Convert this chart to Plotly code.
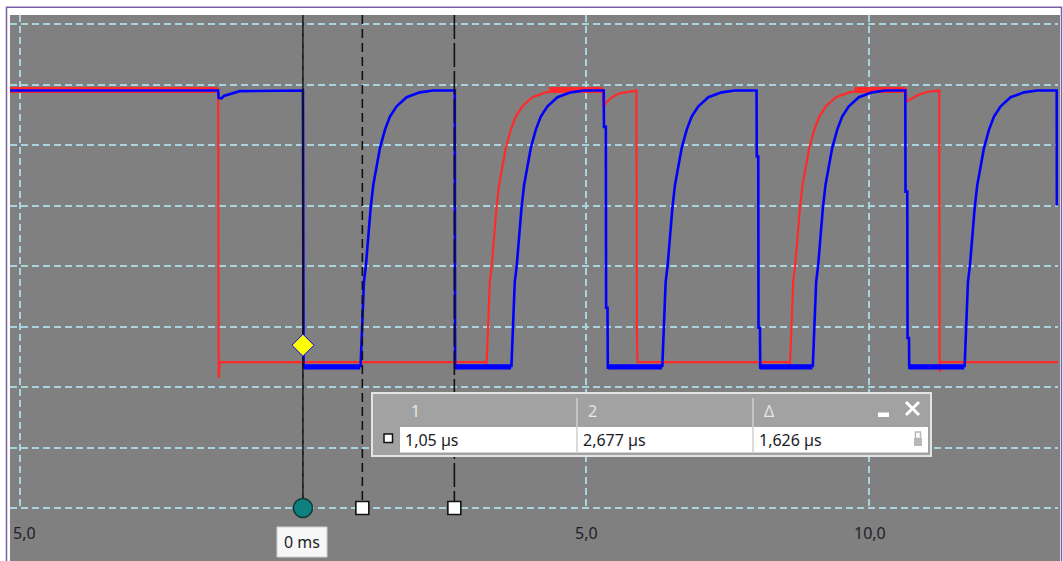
import plotly.graph_objects as go

# ---------------- data (time in µs, amplitude in grid divisions) ----------------
X_RANGE = [-5.18, 13.35]
Y_RANGE = [0.0, 8.149]
GRID_X = [-5, 0, 5, 10]
GRID_Y = [0, 1, 2, 3, 4, 5, 6, 7, 8]
TICK_VALS = [-5, 5, 10]
TICK_TEXT = ["5,0", "5,0", "10,0"]

# measured shape of one rising edge (offset from edge start, level)
RISE_DT = [0, 0.018, 0.035, 0.058, 0.094, 0.134, 0.177, 0.223, 0.283, 0.341,
           0.429, 0.518, 0.636, 0.813, 1.048, 1.283]
RISE_V = [2.37, 2.75, 3.36, 3.74, 4.02, 4.51, 4.96, 5.34, 5.67, 5.95,
          6.25, 6.47, 6.64, 6.79, 6.87, 6.90]

# blue channel: levels, drops and partial segments
BLUE_T = [-5.18, -1.50, -1.49, -1.44, -1.40, -1.33, -1.22, -1.12,
          0.0, 0.01, 0.04,
          2.685, 2.69, 2.72,
          5.318, 5.322, 5.355, 5.36, 5.385, 5.39, 5.42,
          8.02, 8.024, 8.05, 8.055, 8.08, 8.085, 8.11,
          10.65, 10.654, 10.685, 10.69, 10.715, 10.72, 10.75,
          13.327, 13.33]
BLUE_V = [6.90, 6.90, 6.78, 6.77, 6.81, 6.83, 6.87, 6.89,
          6.90, 2.30, 2.35,
          6.90, 2.30, 2.35,
          6.90, 6.30, 6.30, 3.31, 3.31, 2.30, 2.35,
          6.90, 5.81, 5.81, 2.98, 2.98, 2.30, 2.35,
          6.90, 5.23, 5.23, 2.81, 2.81, 2.30, 2.35,
          6.90, 5.00]
BLUE_RISES = [1.02, 3.687, 6.355, 9.016, 11.70]
# noisy low stretches of the blue channel (start, end) and their mean level
BLUE_NOISY_LOW = [(0.02, 1.012), (2.70, 3.68), (5.40, 6.348), (8.09, 9.008), (10.73, 11.692)]
BLUE_NOISY_LEVEL = 2.33

# red channel
RED_T = [-5.18, -1.50, -1.49, -1.47,
         5.30, 5.31, 5.36, 5.45, 5.58, 5.75, 5.896, 5.905, 5.915,
         10.66, 10.67, 10.75, 10.88, 11.05, 11.25, 11.258, 11.275, 13.35]
RED_V = [6.92, 6.92, 2.15, 2.41,
         6.92, 6.63, 6.70, 6.78, 6.85, 6.88, 6.90, 2.83, 2.41,
         6.92, 6.72, 6.76, 6.83, 6.88, 6.90, 2.25, 2.41, 2.41]
RED_RISES = [3.245, 8.61]
RED_LOW = 2.41
BLUE_LOW = 2.35
# noisy high stretches of the red channel
RED_NOISY_HIGH = [(-5.18, -1.505), (4.35, 5.295), (9.75, 10.655)]
RED_NOISY_LEVEL = 6.91

# cursors
CURSOR_ZERO = 0.0
CURSOR_1 = 1.05
CURSOR_2 = 2.677
DIAMOND = (0.0, 2.69)
TABLE_HEAD = ["1", "2", "Δ"]
TABLE_VALS = ["1,05 µs", "2,677 µs", "1,626 µs"]
ZERO_LABEL = "0 ms"


def build(ts, vs, rises, low):
    pts = list(zip(ts, vs))
    for t0 in rises:
        pts.append((t0 - 0.0005, low))
        for dt, v in zip(RISE_DT, RISE_V):
            pts.append((t0 + dt, v))
    pts.sort(key=lambda p: p[0])
    return [p[0] for p in pts], [p[1] for p in pts]


def spans(pairs, level):
    xs, ys = [], []
    for a, b in pairs:
        xs += [a, b, None]
        ys += [level, level, None]
    return xs, ys


bt, bv = build(BLUE_T, BLUE_V, BLUE_RISES, BLUE_LOW)
rt, rv = build(RED_T, RED_V, RED_RISES, RED_LOW)

# ---------------- figure ----------------
W, H = 1063, 561
ML, MR, MT, MB = 10, 5, 15, 53
PW, PH = W - ML - MR, H - MT - MB


def px(x):
    return (x - ML) / PW


def py(y):
    return (MT + PH - y) / PH


FONT = "Noto Sans"
GRID_COLOR = "#a9d3df"
RED = "#ff2a2a"
BLUE = "#0000ff"

fig = go.Figure()
rnx, rny = spans(RED_NOISY_HIGH, RED_NOISY_LEVEL)
fig.add_trace(go.Scatter(x=rnx, y=rny, mode="lines", connectgaps=False,
                         line=dict(color=RED, width=6), hoverinfo="skip"))
fig.add_trace(go.Scatter(x=rt, y=rv, mode="lines",
                         line=dict(color=RED, width=2.2), hoverinfo="skip"))
bnx, bny = spans(BLUE_NOISY_LOW, BLUE_NOISY_LEVEL)
fig.add_trace(go.Scatter(x=bnx, y=bny, mode="lines", connectgaps=False,
                         line=dict(color=BLUE, width=5), hoverinfo="skip"))
fig.add_trace(go.Scatter(x=bt, y=bv, mode="lines",
                         line=dict(color=BLUE, width=2.6), hoverinfo="skip"))

# cursor lines
for xc, dash in [(CURSOR_ZERO, "solid"), (CURSOR_1, "9px,5px"), (CURSOR_2, "24px,4px")]:
    fig.add_trace(go.Scatter(x=[xc, xc], y=[Y_RANGE[1], 0], mode="lines",
                             line=dict(color="#111111", width=1.6, dash=dash),
                             hoverinfo="skip"))

# cursor markers
fig.add_trace(go.Scatter(x=[CURSOR_ZERO], y=[0], mode="markers", cliponaxis=False,
                         marker=dict(symbol="circle", size=19, color="#0e8080",
                                     line=dict(color="#103838", width=1.5)),
                         hoverinfo="skip"))
fig.add_trace(go.Scatter(x=[CURSOR_1, CURSOR_2], y=[0, 0], mode="markers", cliponaxis=False,
                         marker=dict(symbol="square", size=13, color="white",
                                     line=dict(color="#111111", width=1.6)),
                         hoverinfo="skip"))
fig.add_trace(go.Scatter(x=[DIAMOND[0]], y=[DIAMOND[1]], mode="markers", cliponaxis=False,
                         marker=dict(symbol="diamond", size=17, color="#ffff00",
                                     line=dict(color="#0000ff", width=1)),
                         hoverinfo="skip"))

shapes = []
# gray surround below plot
shapes.append(dict(type="rect", xref="paper", yref="paper", layer="below",
                   x0=px(10), x1=px(1060), y0=py(562), y1=py(15),
                   fillcolor="#808080", line=dict(width=0)))
# bottom grid line (plotly omits the one on the axis edge)
shapes.append(dict(type="line", xref="paper", yref="paper", layer="between",
                   x0=0, x1=1, y0=0, y1=0,
                   line=dict(color=GRID_COLOR, width=2, dash="7px,4px")))
# purple frame
shapes.append(dict(type="rect", xref="paper", yref="paper", layer="above",
                   x0=px(6.5), x1=px(1061.5), y0=py(575), y1=py(7.2),
                   fillcolor="rgba(0,0,0,0)", line=dict(color="#7b5fa5", width=1.5)))

# measurement table
shapes.append(dict(type="rect", xref="paper", yref="paper", layer="above",
                   x0=px(372), x1=px(931), y0=py(456), y1=py(393),
                   fillcolor="#a2a2a2", line=dict(color="#e4e4e4", width=2)))
shapes.append(dict(type="rect", xref="paper", yref="paper", layer="above",
                   x0=px(400), x1=px(928), y0=py(452.5), y1=py(427),
                   fillcolor="#ffffff", line=dict(width=0)))
for sx in [577, 753]:
    shapes.append(dict(type="line", xref="paper", yref="paper", layer="above",
                       x0=px(sx), x1=px(sx), y0=py(452.5), y1=py(398),
                       line=dict(color="#cfcfcf", width=1.5)))
# checkbox
shapes.append(dict(type="rect", xref="paper", yref="paper", layer="above",
                   x0=px(384), x1=px(392.5), y0=py(442.5), y1=py(434),
                   fillcolor="#ffffff", line=dict(color="#111111", width=1.5)))
# minimise bar
shapes.append(dict(type="rect", xref="paper", yref="paper", layer="above",
                   x0=px(878), x1=px(889), y0=py(417), y1=py(412.5),
                   fillcolor="#ffffff", line=dict(width=0)))
# close cross
shapes.append(dict(type="line", xref="paper", yref="paper", layer="above",
                   x0=px(906), x1=px(919), y0=py(415), y1=py(402),
                   line=dict(color="#ffffff", width=3)))
shapes.append(dict(type="line", xref="paper", yref="paper", layer="above",
                   x0=px(906), x1=px(919), y0=py(402), y1=py(415),
                   line=dict(color="#ffffff", width=3)))
# lock icon
shapes.append(dict(type="rect", xref="paper", yref="paper", layer="above",
                   x0=px(914), x1=px(922), y0=py(446), y1=py(438),
                   fillcolor="#b8b8b8", line=dict(width=0)))
shapes.append(dict(type="rect", xref="paper", yref="paper", layer="above",
                   x0=px(915.5), x1=px(920.5), y0=py(438.5), y1=py(432),
                   fillcolor="rgba(0,0,0,0)", line=dict(color="#b8b8b8", width=1.5)))
# zero label box
shapes.append(dict(type="rect", xref="paper", yref="paper", layer="above",
                   x0=px(277), x1=px(327), y0=py(557), y1=py(527),
                   fillcolor="#f7f7f7", line=dict(color="#d0d0d0", width=1)))

annotations = []
for tv, tt in zip(TICK_VALS, TICK_TEXT):
    annotations.append(dict(x=tv, xref="x", y=py(533), yref="paper", text=tt,
                            showarrow=False, xanchor="center", yanchor="middle",
                            xshift=4 if tv < 0 else 1,
                            font=dict(family=FONT, size=16, color="#1e1e28")))
for hx, ht in zip([415, 592, 769], TABLE_HEAD):
    annotations.append(dict(x=px(hx), xref="paper", y=py(411), yref="paper", text=ht,
                            showarrow=False, xanchor="center", yanchor="middle",
                            font=dict(family=FONT, size=16, color="#e6e6e6")))
for vx, vt in zip([403, 581, 757], TABLE_VALS):
    annotations.append(dict(x=px(vx), xref="paper", y=py(440), yref="paper", text=vt,
                            showarrow=False, xanchor="left", yanchor="middle",
                            font=dict(family=FONT, size=16, color="#1c1c24")))
annotations.append(dict(x=px(302), xref="paper", y=py(542), yref="paper", text=ZERO_LABEL,
                        showarrow=False, xanchor="center", yanchor="middle",
                        font=dict(family=FONT, size=16, color="#1c1c24")))

fig.update_layout(
    width=W, height=H,
    margin=dict(l=ML, r=MR, t=MT, b=MB, pad=0),
    paper_bgcolor="white", plot_bgcolor="#808080",
    showlegend=False,
    shapes=shapes, annotations=annotations,
    xaxis=dict(range=X_RANGE, tickmode="array", tickvals=GRID_X, showticklabels=False,
               showgrid=True, gridcolor=GRID_COLOR, gridwidth=2, griddash="7px,4px",
               zeroline=False, showline=False, ticks="", fixedrange=True),
    yaxis=dict(range=Y_RANGE, tickmode="array", tickvals=GRID_Y, showticklabels=False,
               showgrid=True, gridcolor=GRID_COLOR, gridwidth=2, griddash="7px,4px",
               zeroline=False, showline=False, ticks="", fixedrange=True),
)

fig.write_html("out.html", config={"displayModeBar": False},
               post_script="document.body.style.margin='0';document.body.style.overflow='hidden';")
